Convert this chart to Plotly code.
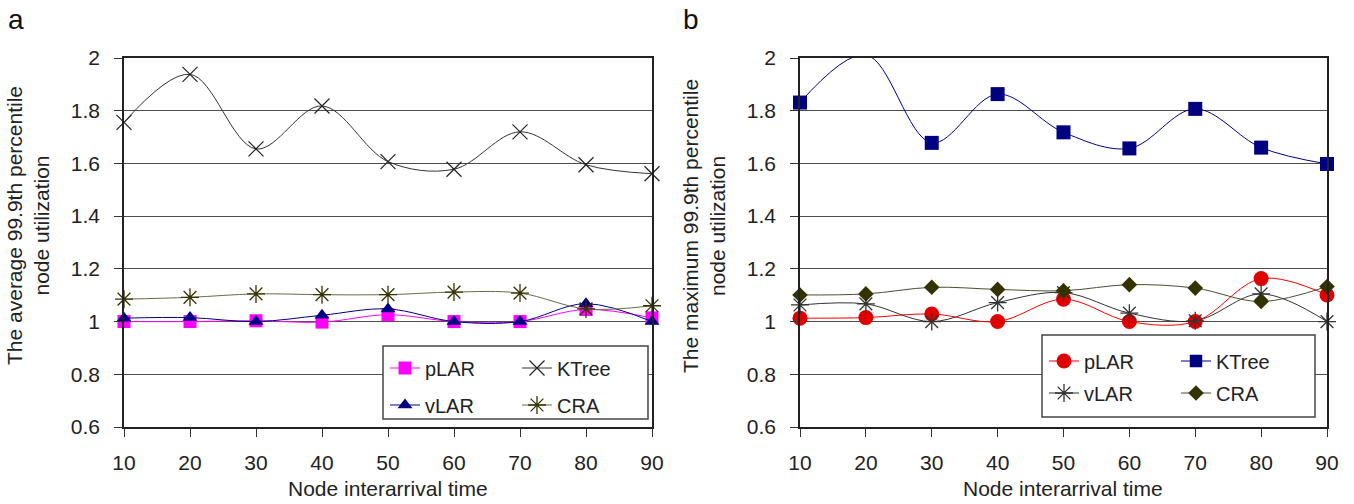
import plotly.graph_objects as go

# ---------------- data ----------------
interarrival = [10, 20, 30, 40, 50, 60, 70, 80, 90]

# panel a: average 99.9th percentile node utilization
plar_a = [1.0, 1.0, 1.003, 0.998, 1.026, 1.0, 1.0, 1.046, 1.014]
vlar_a = [1.013, 1.015, 1.0, 1.024, 1.048, 1.0, 1.0, 1.068, 1.0]
ktree_a = [1.756, 1.938, 1.655, 1.818, 1.607, 1.578, 1.72, 1.595, 1.561]
cra_a = [1.085, 1.092, 1.105, 1.102, 1.102, 1.112, 1.108, 1.048, 1.06]

# panel b: maximum 99.9th percentile node utilization
plar_b = [1.013, 1.015, 1.029, 1.0, 1.085, 1.0, 1.0, 1.163, 1.101]
vlar_b = [1.063, 1.067, 1.0, 1.072, 1.11, 1.032, 1.003, 1.105, 1.0]
ktree_b = [1.831, 2.012, 1.678, 1.863, 1.718, 1.657, 1.807, 1.66, 1.598]
cra_b = [1.101, 1.105, 1.13, 1.122, 1.117, 1.14, 1.127, 1.076, 1.133]

y_ticks = [0.6, 0.8, 1.0, 1.2, 1.4, 1.6, 1.8, 2.0]
x_title = "Node interarrival time"
y_title_a = "The average 99.9th percentile<br>node utilization"
y_title_b = "The maximum 99.9th percentile<br>node utilization"

W, H = 1354, 504
FONT = "Arial, Liberation Sans, sans-serif"
YMAX = 2.0
TXT = 21

fig = go.Figure()


def add(x, y, name, xa, ya, legend, line_color, symbol, msize, mcolor, mline_color=None, mline_w=0, lw=1):
    sizes = [0 if v > YMAX else msize for v in y]
    fig.add_trace(go.Scatter(
        x=x, y=y, name=name, mode="lines+markers", xaxis=xa, yaxis=ya, legend=legend,
        line=dict(color=line_color, width=lw, shape="spline", smoothing=1),
        marker=dict(symbol=symbol, size=sizes, color=mcolor, opacity=1,
                    line=dict(color=mline_color or mcolor, width=mline_w)),
        cliponaxis=False,
    ))


# panel a (drawing order: pLAR, vLAR, KTree, CRA)
add(interarrival, plar_a, "pLAR", "x", "y", "legend", "#ff00ff", "square", 13, "#ff00ff")
add(interarrival, vlar_a, "vLAR", "x", "y", "legend2", "#000080", "triangle-up", 13, "#000080")
add(interarrival, ktree_a, "KTree", "x", "y", "legend", "#333333", "x-thin-open", 15, "#222222", "#222222", 1.2)
add(interarrival, cra_a, "CRA", "x", "y", "legend2", "#6b6b4a", "asterisk-open", 15, "#333300", "#333300", 1.3)

# panel b (drawing order: pLAR, KTree, vLAR, CRA)
add(interarrival, plar_b, "pLAR", "x2", "y2", "legend3", "#ff0000", "circle", 15, "#e00000")
add(interarrival, ktree_b, "KTree", "x2", "y2", "legend3", "#000080", "square", 14, "#000080")
add(interarrival, vlar_b, "vLAR", "x2", "y2", "legend4", "#333333", "asterisk-open", 15, "#333333", "#333333", 1.3)
add(interarrival, cra_b, "CRA", "x2", "y2", "legend4", "#4d4d33", "diamond", 12, "#333300")


def px_x(p):
    return p / W


def px_y(p):
    return 1 - p / H


axis_font = dict(family=FONT, size=TXT, color="#222222")
xcommon = dict(range=[10, 90], tickvals=interarrival, ticks="outside", ticklen=8, tickcolor="#333333",
               showline=True, linecolor="#222222", linewidth=1.5, mirror=True, showgrid=False,
               zeroline=False, tickfont=axis_font, ticklabelstandoff=8, automargin=False)
ycommon = dict(range=[0.6, 2.0], tickvals=y_ticks, ticks="outside", ticklen=8, tickcolor="#333333",
               showline=True, linecolor="#222222", linewidth=1.5, mirror=True, showgrid=True,
               gridcolor="#4d4d4d", gridwidth=1, zeroline=False, tickfont=axis_font,
               ticklabelstandoff=10, automargin=False)

dom_y = [px_y(427), px_y(58)]


def leg(xp, yp):
    return dict(orientation="h", x=px_x(xp), y=px_y(yp), xanchor="left", yanchor="middle",
                entrywidth=87, bgcolor="rgba(0,0,0,0)", borderwidth=0,
                font=dict(family=FONT, size=20, color="#222222"))


fig.update_layout(
    template="none",
    width=W, height=H, margin=dict(l=0, r=0, t=0, b=0, autoexpand=False),
    paper_bgcolor="white", plot_bgcolor="white",
    font=dict(family=FONT, size=TXT, color="#222222"),
    xaxis=dict(domain=[px_x(124), px_x(652)], anchor="y", **xcommon),
    yaxis=dict(domain=dom_y, anchor="x", **ycommon),
    xaxis2=dict(domain=[px_x(800), px_x(1327)], anchor="y2", **xcommon),
    yaxis2=dict(domain=dom_y, anchor="x2", **ycommon),
    legend=leg(385, 368),
    legend2=leg(385, 405),
    legend3=leg(1044, 361),
    legend4=leg(1044, 393),
    shapes=[
        dict(type="rect", xref="paper", yref="paper", x0=px_x(383), x1=px_x(648),
             y0=px_y(419), y1=px_y(346), line=dict(color="#444444", width=1.5),
             fillcolor="white", layer="above"),
        dict(type="rect", xref="paper", yref="paper", x0=px_x(1042), x1=px_x(1315),
             y0=px_y(417), y1=px_y(335), line=dict(color="#444444", width=1.5),
             fillcolor="white", layer="above"),
    ],
    annotations=[
        dict(text="a", x=px_x(6), y=px_y(2), xref="paper", yref="paper", xanchor="left",
             yanchor="top", showarrow=False, font=dict(family=FONT, size=28, color="#111111")),
        dict(text="b", x=px_x(681), y=px_y(2), xref="paper", yref="paper", xanchor="left",
             yanchor="top", showarrow=False, font=dict(family=FONT, size=28, color="#111111")),
        dict(text=y_title_a, x=px_x(28), y=px_y(226), xref="paper", yref="paper",
             xanchor="center", yanchor="middle",
             textangle=-90, showarrow=False, font=dict(family=FONT, size=TXT, color="#222222")),
        dict(text=y_title_b, x=px_x(704), y=px_y(226), xref="paper", yref="paper",
             xanchor="center", yanchor="middle",
             textangle=-90, showarrow=False, font=dict(family=FONT, size=TXT, color="#222222")),
        dict(text=x_title, x=px_x(388), y=px_y(488), xref="paper", yref="paper",
             xanchor="center", yanchor="middle",
             showarrow=False, font=dict(family=FONT, size=TXT, color="#222222")),
        dict(text=x_title, x=px_x(1063), y=px_y(488), xref="paper", yref="paper",
             xanchor="center", yanchor="middle",
             showarrow=False, font=dict(family=FONT, size=TXT, color="#222222")),
    ],
)

fig.write_html("out.html", config={"displayModeBar": False},
               post_script="document.body.style.margin='0px';")
